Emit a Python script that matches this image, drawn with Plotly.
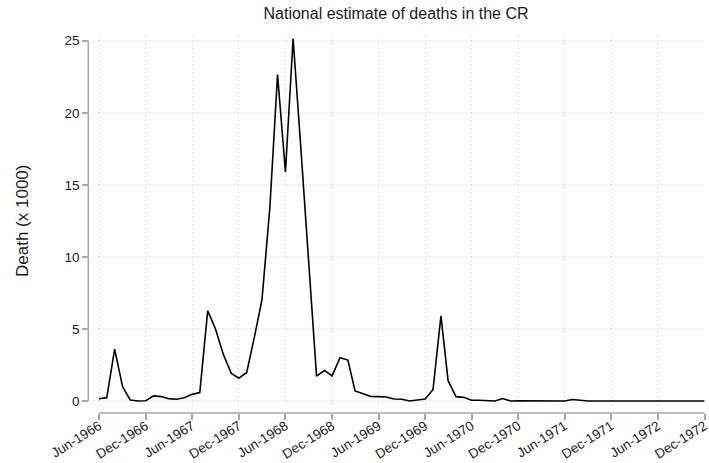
import pandas as pd
import plotly.graph_objects as go

# Monthly national estimate of deaths (thousands), Jun-1966 .. Dec-1972
start_month = "1966-06-01"
deaths_thousands = [
    0.16, 0.23, 3.60, 1.00, 0.07, 0.00, 0.02, 0.35, 0.30, 0.16,
    0.12, 0.23, 0.46, 0.58, 6.25, 4.98, 3.24, 1.93, 1.58, 1.98,
    4.50, 7.05, 13.46, 22.65, 15.90, 25.15, 17.40, 9.60, 1.72, 2.12,
    1.74, 3.00, 2.84, 0.70, 0.48, 0.32, 0.30, 0.28, 0.14, 0.12,
    0.00, 0.07, 0.14, 0.80, 5.90, 1.41, 0.30, 0.25, 0.05, 0.05,
    0.02, 0.00, 0.17, 0.00, 0.01, 0.00, 0.03, 0.00, 0.00, 0.00,
    0.00, 0.10, 0.03, 0.00, 0.00, 0.00, 0.00, 0.00, 0.00, 0.00,
    0.00, 0.00, 0.00, 0.00, 0.00, 0.00, 0.00, 0.00, 0.00,
]
x_tick_dates = pd.date_range("1966-06-01", "1972-12-01", freq="6MS")
x_tick_labels = [d.strftime("%b-%Y") for d in x_tick_dates]
y_ticks = [0, 5, 10, 15, 20, 25]

title_text = "National estimate of deaths in the CR"
y_title = "Death (x 1000)"

months = pd.date_range(start_month, periods=len(deaths_thousands), freq="MS")

# ---- page geometry (pixels) ----
W, H = 709, 463
ML, MR, MT, MB = 10, 0, 10, 10
pw, ph = W - ML - MR, H - MT - MB

x_lo_px, x_hi_px = 94.0, 704.8      # plot region in x
y_lo_px, y_hi_px = 405.3, 36.4      # plot region in y (bottom, top)
yaxis_px = 88.3                     # offset y-axis line
xaxis_px = 413.0                    # offset x-axis line


def fx(px):
    return (px - ML) / pw


def fy(py):
    return (H - MB - py) / ph


xdom = [fx(x_lo_px), fx(x_hi_px)]
ydom = [fy(y_lo_px), fy(y_hi_px)]
yaxis_pos = fx(yaxis_px)
xaxis_pos = fy(xaxis_px)

axis_col = "#a6a6a6"
grid_col = "#cfcfcf"
font_col = "#1a1a1a"
FONT = "Liberation Sans, Arial, sans-serif"

fig = go.Figure()
fig.add_trace(go.Scatter(
    x=months, y=deaths_thousands, mode="lines",
    line=dict(color="#000000", width=1.6),
    showlegend=False, hoverinfo="x+y",
))

fig.update_layout(
    width=W, height=H,
    margin=dict(l=ML, r=MR, t=MT, b=MB, autoexpand=False),
    paper_bgcolor="white", plot_bgcolor="white",
    font=dict(family=FONT, size=13, color=font_col),
    title=dict(text=title_text, x=396 / W, xanchor="center",
               y=1 - 13 / H, yanchor="middle",
               font=dict(family=FONT, size=16, color=font_col)),
    xaxis=dict(
        type="date",
        domain=xdom,
        range=[pd.Timestamp("1966-05-12"), pd.Timestamp("1972-12-02")],
        anchor="free", position=xaxis_pos,
        tickvals=list(x_tick_dates), ticktext=x_tick_labels,
        tickangle=-32, ticklabeloverflow="allow", ticklabelstandoff=-7,
        ticks="outside", ticklen=6, tickwidth=1.5, tickcolor=axis_col,
        showline=False, zeroline=False,
        showgrid=True, gridcolor=grid_col, griddash="1px,3px", gridwidth=1,
        tickfont=dict(size=13.5, color=font_col),
    ),
    yaxis=dict(
        domain=ydom,
        range=[-0.3, 25.3],
        anchor="free", position=yaxis_pos,
        tickvals=y_ticks, ticklabeloverflow="allow",
        ticks="outside", ticklen=6, tickwidth=1.5, tickcolor=axis_col,
        showline=False, zeroline=False,
        showgrid=True, gridcolor=grid_col, griddash="1px,3px", gridwidth=1,
        tickfont=dict(size=13.5, color=font_col),
        title=None,
    ),
)

# axis lines spanning only the tick range
fig.add_shape(type="line", xref="paper", yref="y",
              x0=yaxis_pos, x1=yaxis_pos, y0=y_ticks[0], y1=y_ticks[-1],
              line=dict(color=axis_col, width=1.5))
fig.add_shape(type="line", xref="x", yref="paper",
              x0=x_tick_dates[0], x1=x_tick_dates[-1],
              y0=xaxis_pos, y1=xaxis_pos,
              line=dict(color=axis_col, width=1.5))

# y-axis title
fig.add_annotation(text=y_title, xref="paper", yref="paper",
                   x=fx(22), y=fy(221),
                   xanchor="center", yanchor="middle", textangle=-90,
                   showarrow=False, font=dict(family=FONT, size=17, color=font_col))

fig.write_html("out.html")
